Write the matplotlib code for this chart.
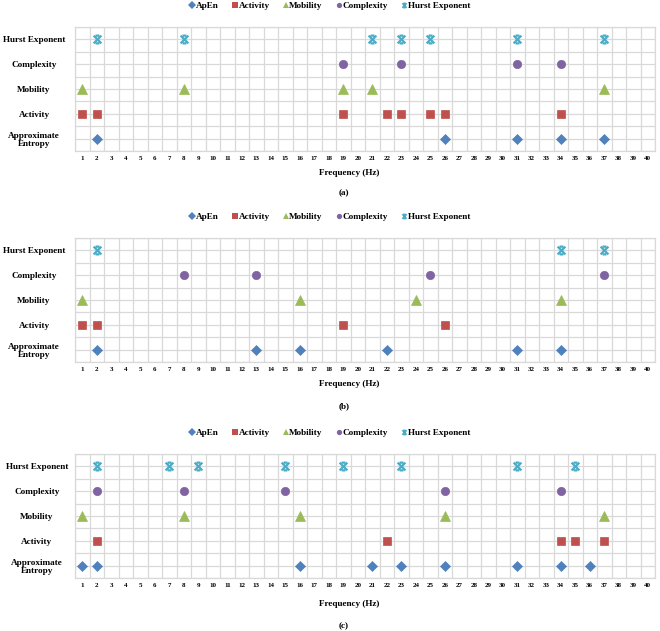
import matplotlib
matplotlib.use('Agg')
import matplotlib.pyplot as plt
from matplotlib.path import Path
from matplotlib.lines import Line2D

plt.rcParams['font.family'] = ['Liberation Serif', 'DejaVu Serif']
plt.rcParams['font.weight'] = 'bold'

# --- data: frequency bins (Hz) where each feature was selected ---
freqs = list(range(1, 41))
row_labels = ['Approximate\nEntropy', 'Activity', 'Mobility', 'Complexity', 'Hurst Exponent']
series_names = ['ApEn', 'Activity', 'Mobility', 'Complexity', 'Hurst Exponent']
panel_tags = ['(a)', '(b)', '(c)']

apen_a = [2, 26, 31, 34, 37]
activity_a = [1, 2, 19, 22, 23, 25, 26, 34]
mobility_a = [1, 8, 19, 21, 37]
complexity_a = [19, 23, 31, 34]
hurst_a = [2, 8, 21, 23, 25, 31, 37]

apen_b = [2, 13, 16, 22, 31, 34]
activity_b = [1, 2, 19, 26]
mobility_b = [1, 16, 24, 34]
complexity_b = [8, 13, 25, 37]
hurst_b = [2, 34, 37]

apen_c = [1, 2, 16, 21, 23, 26, 31, 34, 36]
activity_c = [2, 22, 34, 35, 37]
mobility_c = [1, 8, 16, 26, 37]
complexity_c = [2, 8, 15, 26, 34]
hurst_c = [2, 7, 9, 15, 19, 23, 31, 35]

panels = [
    [apen_a, activity_a, mobility_a, complexity_a, hurst_a],
    [apen_b, activity_b, mobility_b, complexity_b, hurst_b],
    [apen_c, activity_c, mobility_c, complexity_c, hurst_c],
]

colors = ['#4F81BD', '#C0504D', '#9BBB59', '#8064A2', '#4BACC6']

# Excel style "star" marker: an X with short caps on top and bottom
star_path = Path(
    [(-1, -1), (1, 1), (-1, 1), (1, -1), (-0.5, 1), (0.5, 1), (-0.5, -1), (0.5, -1)],
    [Path.MOVETO, Path.LINETO, Path.MOVETO, Path.LINETO,
     Path.MOVETO, Path.LINETO, Path.MOVETO, Path.LINETO])

marker_style = [
    dict(marker='D', markersize=5.0),
    dict(marker='s', markersize=5.4),
    dict(marker='^', markersize=6.8),
    dict(marker='o', markersize=6.0),
    dict(marker=star_path, markersize=5.6),
]

fig = plt.figure(figsize=(6.6, 6.31), dpi=100)

# pixel positions of the plot areas (top, bottom), legend rows, caption offsets
W, H = 660, 631
areas = [(27, 151), (238, 362), (454, 578)]
legend_y = [6, 217, 433]
xlabel_off = [22, 22, 26]
tag_off = [42, 44, 48]
ylab_pad = [29.5, 29.5, 27.5]
grid_col = '#D9D9D9'
fs = 6.6

for p, (top, bot) in enumerate(areas):
    ax = fig.add_axes([75 / W, 1 - bot / H, 580 / W, (bot - top) / H])
    for k, xs in enumerate(panels[p]):
        st = marker_style[k]
        if k < 4:
            ax.plot(xs, [k + 1] * len(xs), linestyle='none', color=colors[k], marker=st['marker'],
                    markersize=st['markersize'], markeredgewidth=0.5, zorder=3)
        else:
            ax.plot(xs, [k + 1] * len(xs), linestyle='none', color=colors[k], marker=st['marker'],
                    markersize=st['markersize'], markeredgewidth=1.6, markerfacecolor='none', zorder=3)

    ax.set_xlim(0.5, 40.5)
    ax.set_ylim(0.5, 5.5)
    ax.set_xticks(freqs)
    ax.set_xticklabels([str(f) for f in freqs], fontsize=5.0)
    ax.set_xticks([f + 0.5 for f in range(0, 41)], minor=True)
    ax.set_yticks(range(1, 6))
    ax.set_yticklabels(row_labels, fontsize=fs, ha='center', linespacing=1.0)
    ax.set_yticks([y + 0.5 for y in range(0, 6)], minor=True)
    ax.tick_params(axis='x', which='both', length=0, pad=3.8)
    ax.tick_params(axis='y', which='both', length=0, pad=ylab_pad[p])
    ax.grid(True, which='minor', axis='x', color=grid_col, linewidth=0.9)
    ax.grid(True, which='both', axis='y', color=grid_col, linewidth=0.9)
    for s in ax.spines.values():
        s.set_color(grid_col)
        s.set_linewidth(0.9)
    ax.set_axisbelow(True)

    fig.text(349 / W, 1 - (bot + xlabel_off[p]) / H, 'Frequency (Hz)', ha='center', va='center', fontsize=fs)
    fig.text(344 / W, 1 - (bot + tag_off[p]) / H, panel_tags[p], ha='center', va='center', fontsize=fs)

    handles = []
    for k in range(5):
        st = marker_style[k]
        if k < 4:
            h = Line2D([], [], linestyle='none', color=colors[k], marker=st['marker'],
                       markersize=3.8, markeredgewidth=0, label=series_names[k])
        else:
            h = Line2D([], [], linestyle='none', color=colors[k], marker=st['marker'],
                       markersize=3.2, markeredgewidth=1.1, markerfacecolor='none',
                       label=series_names[k])
        handles.append(h)
    fig.legend(handles=handles, loc='center', bbox_to_anchor=(330 / W, 1 - legend_y[p] / H),
               ncol=5, frameon=False, fontsize=fs, handlelength=0.5, handletextpad=0.15,
               columnspacing=1.5, borderaxespad=0)

fig.savefig('out.png', dpi=100)
